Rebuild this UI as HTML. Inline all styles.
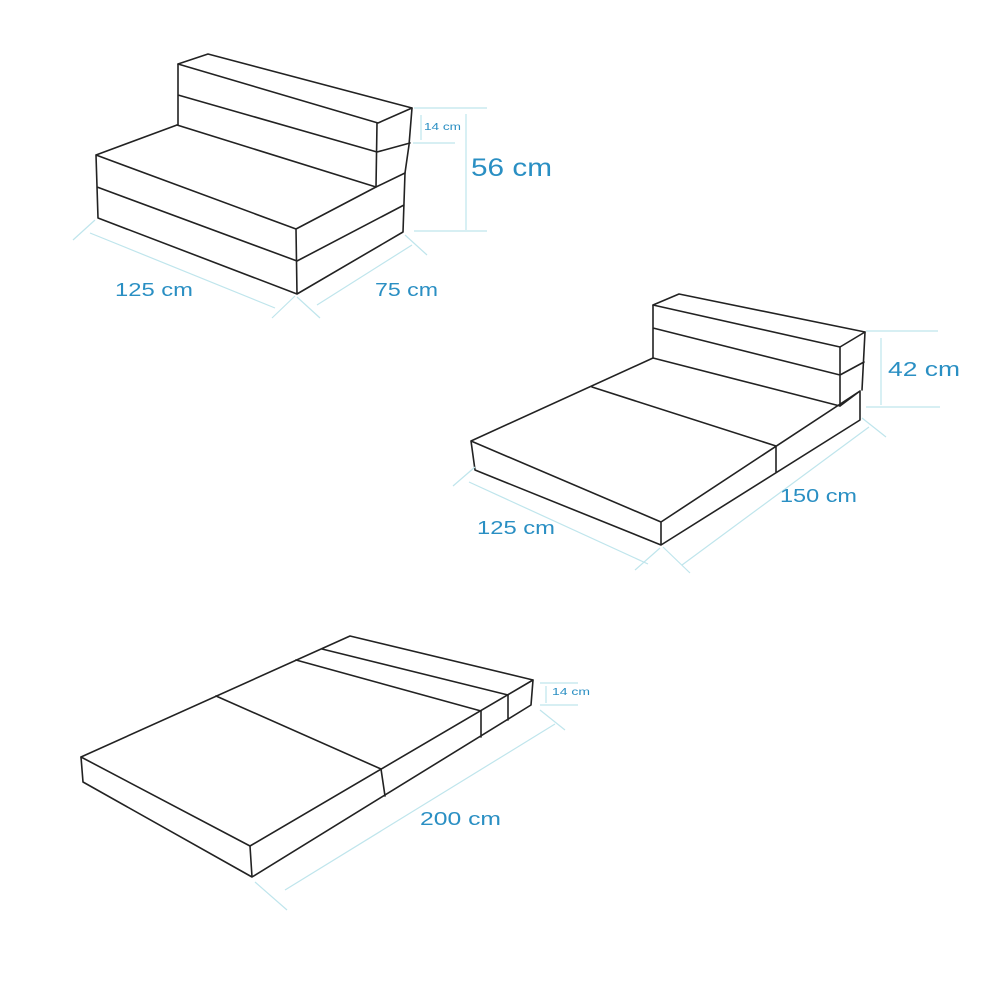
<!DOCTYPE html>
<html><head><meta charset="utf-8"><style>
html,body{margin:0;padding:0;background:#fff;}
svg{display:block;}
text{font-family:"Liberation Sans",sans-serif;fill:#2a8fc3;}
</style></head><body>
<svg width="990" height="990" viewBox="0 0 990 990" xmlns="http://www.w3.org/2000/svg">
<g fill="none" stroke="#222" stroke-width="1.6" stroke-linejoin="round" stroke-linecap="round">
<!-- Sofa 1 -->
<path d="M178,64 L208,54 L412,108 L378,123 Z"/>
<path d="M178,64 L178,125 M178,95 L377,152 M377,123 L376,187 M377,152 L410,143 M412,108 L409,145 L405,173"/>
<path d="M96,155 L177,125 M177,125 L376,187 L405,173 M96,155 L296,229 L376,187 M96,155 L98,218 L297,294 L403,232 L405,173 M97,187 L297,261 L404,205 M296,229 L297,294"/>
<!-- Sofa 2 -->
<path d="M653,305 L679,294 L865,332 L840,347 Z"/>
<path d="M653,305 L653,358 M653,328 L840,375 L864,362 M840,347 L840,406 M865,332 L862,390"/>
<path d="M653,358 L840,406 L860,391 M653,358 L471,441 L661,522 L860,391 L860,420 L661,545 L475,470 L471,441 M661,522 L661,545 M592,387 L776,446 L776,472"/>
<!-- Mattress -->
<path d="M81,757 L350,636 L533,680 L250,846 Z"/>
<path d="M322,649 L508,695 M296,660 L481,711 M216,696 L381,769"/>
<path d="M81,757 L83,782 L252,877 L531,705 L533,680 M250,846 L252,877 M381,769 L385,796 M481,711 L481,737 M508,695 L508,720"/>
</g>
<g fill="none" stroke="#bfe5ec" stroke-width="1.2">
<!-- sofa1 dims -->
<path d="M414,108 L487,108 M421,115 L421,140 M413,143 L455,143 M466,114 L466,230 M414,231 L487,231"/>
<path d="M90,233 L275,308 M73,240 L95,220 M272,318 L295,296 M317,305 L412,245 M297,297 L320,318 M405,235 L427,255"/>
<!-- sofa2 dims -->
<path d="M866,331 L938,331 M881,338 L881,405 M866,407 L940,407"/>
<path d="M469,482 L648,564 M453,486 L475,467 M635,570 L660,548 M682,565 L869,427 M663,547 L690,573 M862,418 L886,437"/>
<!-- mattress dims -->
<path d="M540,683 L578,683 M546,686 L546,703 M540,705 L578,705"/>
<path d="M285,890 L555,724 M255,882 L287,910 M540,710 L565,730"/>
</g>
<text x="424" y="130" font-size="10" textLength="37" lengthAdjust="spacingAndGlyphs">14 cm</text>
<text x="471" y="176" font-size="25" textLength="81" lengthAdjust="spacingAndGlyphs">56 cm</text>
<text x="115" y="296" font-size="18" textLength="78" lengthAdjust="spacingAndGlyphs">125 cm</text>
<text x="375" y="296" font-size="18" textLength="63" lengthAdjust="spacingAndGlyphs">75 cm</text>
<text x="888" y="376" font-size="20" textLength="72" lengthAdjust="spacingAndGlyphs">42 cm</text>
<text x="477" y="534" font-size="18" textLength="78" lengthAdjust="spacingAndGlyphs">125 cm</text>
<text x="780" y="502" font-size="18" textLength="77" lengthAdjust="spacingAndGlyphs">150 cm</text>
<text x="552" y="695" font-size="10" textLength="38" lengthAdjust="spacingAndGlyphs">14 cm</text>
<text x="420" y="825" font-size="18" textLength="81" lengthAdjust="spacingAndGlyphs">200 cm</text>
</svg>
</body></html>
